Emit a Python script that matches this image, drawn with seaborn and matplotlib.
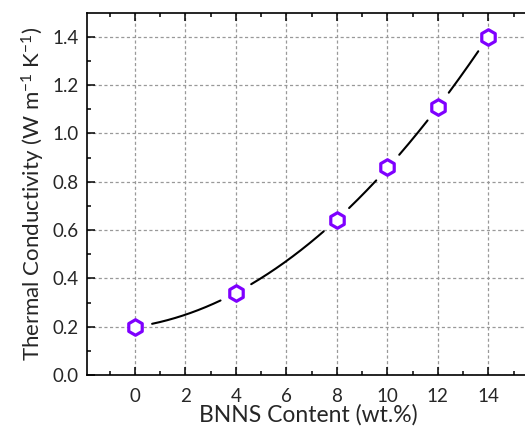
import numpy as np
import pandas as pd
import matplotlib
matplotlib.use("Agg")
import matplotlib.pyplot as plt
import seaborn as sns

# Measured thermal conductivity vs. BNNS loading
bnns_content = [0, 4, 8, 10, 12, 14]
conductivity = [0.20, 0.34, 0.64, 0.86, 1.11, 1.40]
x_ticks = [0, 2, 4, 6, 8, 10, 12, 14]
y_ticks = [0.0, 0.2, 0.4, 0.6, 0.8, 1.0, 1.2, 1.4]

df = pd.DataFrame({"content": bnns_content, "k": conductivity})

sns.set_theme(style="white")
plt.rcParams["font.family"] = ["Lato", "DejaVu Sans"]
plt.rcParams["mathtext.fontset"] = "custom"
plt.rcParams["mathtext.rm"] = "Lato"
plt.rcParams["mathtext.it"] = "Lato:italic"

W, H = 525, 429
fig = plt.figure(figsize=(W / 100, H / 100), dpi=100)
left_px, right_px, top_px, bottom_px = 87.3, 530.0, 12.7, 375.0
ax = fig.add_axes([left_px / W, 1 - bottom_px / H,
                   (right_px - left_px) / W, (bottom_px - top_px) / H])

px_per_unit = (488.3 - 135.0) / 14
ax.set_xlim((left_px - 135.0) / px_per_unit, (right_px - 135.0) / px_per_unit)
ax.set_ylim(0.0, 1.5)

# Quadratic trend through the measurements
coef = np.polyfit(df["content"], df["k"], 2)
xs = np.linspace(0, 14, 600)
ys = np.polyval(coef, xs)

# Leave a gap in the trend line around each symbol
fig.canvas.draw()
curve_disp = ax.transData.transform(np.column_stack([xs, ys]))
pts_disp = ax.transData.transform(df[["content", "k"]].to_numpy())
gap_px = 17.0
mask = np.zeros(len(xs), dtype=bool)
for p in pts_disp:
    mask |= np.hypot(*(curve_disp - p).T) < gap_px
ys_gap = ys.copy()
ys_gap[mask] = np.nan
ax.plot(xs, ys_gap, color="black", lw=1.5, zorder=3)

sns.scatterplot(data=df, x="content", y="k", ax=ax, marker="h", s=125,
                facecolor="white", edgecolor="#7F00FF", linewidth=2.3,
                zorder=4, legend=False)

ax.set_xticks(x_ticks)
ax.set_xticklabels([str(v) for v in x_ticks])
ax.set_yticks(y_ticks)
ax.set_yticklabels([f"{v:.1f}" for v in y_ticks])
ax.set_xticks(np.arange(-1, 16, 1), minor=True)
ax.set_yticks(np.arange(0.1, 1.5, 0.2), minor=True)

ax.grid(True, which="major", color="#999999", linestyle=(0, (2.5, 2)), lw=0.9)
ax.set_axisbelow(True)

for side in ["left", "bottom", "top"]:
    ax.spines[side].set_visible(True)
    ax.spines[side].set_color("black")
    ax.spines[side].set_linewidth(1.2)
ax.spines["right"].set_visible(False)

ax.tick_params(which="both", direction="in", top=True, bottom=True,
               left=True, right=False, color="black", width=1.1)
ax.tick_params(which="major", length=5.5, labelsize=13.5, pad=6)
ax.tick_params(which="minor", length=3)
ax.tick_params(axis="x", which="major", pad=9)

ax.set_xlabel("BNNS Content (wt.%)", fontsize=16.5, labelpad=0)
ax.set_ylabel("Thermal Conductivity (W m$^{-1}$ K$^{-1}$)", fontsize=16, labelpad=4)

fig.savefig("out.png", dpi=100)
